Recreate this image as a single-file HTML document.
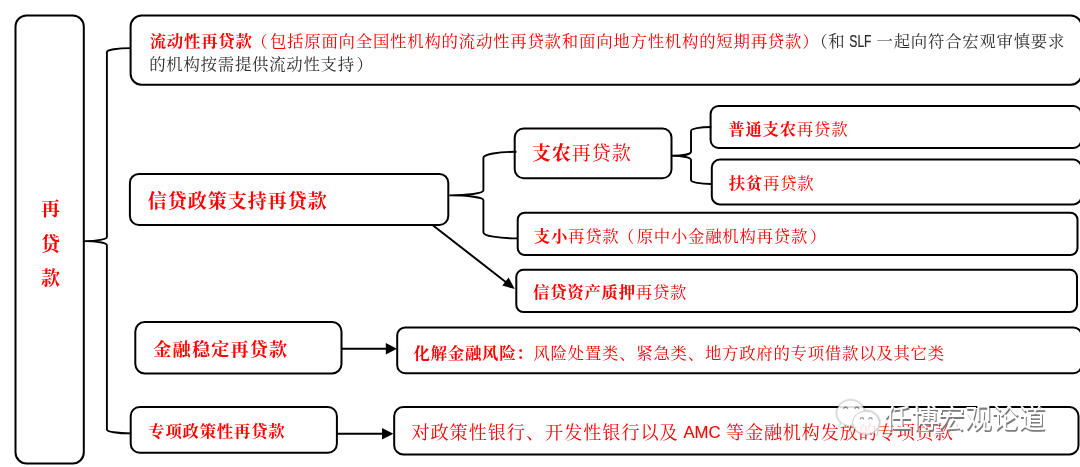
<!DOCTYPE html>
<html lang="zh-CN">
<head>
<meta charset="utf-8">
<title>再贷款</title>
<style>
  html, body { margin: 0; padding: 0; background: #fff; }
  body { width: 1080px; height: 467px; overflow: hidden; }
  svg { display: block; will-change: transform; }
  .box { fill: #fff; stroke: #000; stroke-width: 2; }
  .ln { fill: none; stroke: #000; stroke-width: 1.9; }
  .ar { fill: none; stroke: #000; stroke-width: 2; }
  .hd { fill: #000; stroke: none; }
  text { font-family: "Liberation Serif", "Noto Serif CJK SC", serif; fill: #ff0000; font-weight: 400; }
  .b { font-weight: 700; }
  .k { fill: #2b2b2b; }
  .la { font-family: "Liberation Sans", "Noto Sans CJK SC", sans-serif; font-weight: 400; }
  .t17 { font-size: 16.4px; letter-spacing: 0.75px; }
  .t18 { font-size: 17.4px; letter-spacing: 0.6px; }
  .t19 { font-size: 18.1px; letter-spacing: 0.9px; }
  .t20 { font-size: 19px; letter-spacing: 1px; }
  .wm { font-family: "Liberation Sans", "Noto Sans CJK SC", sans-serif; font-size: 26.9px; fill: #fff; font-weight: 400; }
  .wmi { filter: drop-shadow(0.6px 0.6px 0.8px rgba(0,0,0,0.45)); opacity: 0.86; }
</style>
</head>
<body>
<svg width="1080" height="467" viewBox="0 0 1080 467">
  <defs>
    <filter id="ws" x="-5%" y="-25%" width="110%" height="150%" color-interpolation-filters="sRGB">
      <feOffset in="SourceAlpha" dx="1" dy="2" result="o"/>
      <feGaussianBlur in="o" stdDeviation="0.45" result="b"/>
      <feFlood flood-color="#7c7c7c" result="c"/>
      <feComposite in="c" in2="b" operator="in" result="s"/>
      <feMerge><feMergeNode in="s"/><feMergeNode in="SourceGraphic"/></feMerge>
    </filter>
  </defs>
  <rect x="0" y="0" width="1080" height="467" fill="#fff"/>

  <!-- boxes -->
  <rect class="box" x="15.5" y="15.5" width="68.3" height="447.9" rx="11" ry="11"/>
  <rect class="box" x="130.6" y="15.5" width="951" height="69.2" rx="11" ry="11"/>
  <rect class="box" x="129.9" y="173.9" width="318.4" height="51.1" rx="9" ry="9"/>
  <rect class="box" x="514.7" y="128.5" width="156.8" height="49.8" rx="9" ry="9"/>
  <rect class="box" x="710.6" y="106" width="370.7" height="42" rx="8" ry="8"/>
  <rect class="box" x="711.8" y="159.6" width="369.5" height="44.8" rx="8" ry="8"/>
  <rect class="box" x="517.7" y="212.7" width="559.8" height="42.3" rx="7" ry="7"/>
  <rect class="box" x="516.3" y="269.8" width="560.7" height="42.2" rx="7" ry="7"/>
  <rect class="box" x="135.3" y="322" width="206.2" height="51.6" rx="9.5" ry="9.5"/>
  <rect class="box" x="397.2" y="327.4" width="684.3" height="45.8" rx="8" ry="8"/>
  <rect class="box" x="130.7" y="407" width="206.2" height="45.8" rx="9" ry="9"/>
  <rect class="box" x="394.2" y="407.1" width="684.3" height="47.3" rx="9" ry="9"/>

  <!-- connectors -->
  <path class="ln" d="M130.5,48.1 A23.6,4 0 0 0 106.9,52.1 V237 A22.4,4.1 0 0 1 84.5,241.1 A22.4,4.1 0 0 1 106.9,245.2 V429.4 A23.6,4 0 0 0 130.5,433.4"/>
  <path class="ln" d="M516.5,151.8 A33.1,6 0 0 0 483.4,157.8 V190.6 A34.1,4.8 0 0 1 449.3,195.4 A34.1,4.8 0 0 1 483.4,200.2 V232.4 A34.1,6 0 0 0 517.5,238.4"/>
  <path class="ln" d="M711.3,127 A20,4 0 0 0 691,131 V152 A19,4 0 0 1 672,155.8 A19,4 0 0 1 691,160 V180 A20,4 0 0 0 712,184"/>

  <!-- arrows -->
  <path class="ar" d="M432.8,225.2 L507,283"/>
  <path class="hd" d="M514.8,289 L502.3,285.6 L508.6,277.6 Z"/>
  <path class="ar" d="M342,348.7 H388"/>
  <path class="hd" d="M397,348.7 L385.8,343 V354.4 Z"/>
  <path class="ar" d="M337,433.7 H384"/>
  <path class="hd" d="M393.4,433.7 L382,428 V439.4 Z"/>

  <!-- text -->
  <text class="t19 b" x="50.9" y="216" text-anchor="middle" style="font-size:19px">再</text>
  <text class="t19 b" x="50.9" y="251" text-anchor="middle" style="font-size:19px">贷</text>
  <text class="t19 b" x="50.9" y="285.2" text-anchor="middle" style="font-size:19px">款</text>

  <text class="t17" x="149.7" y="47" style="letter-spacing:0.78px"><tspan class="b">流动性再贷款</tspan><tspan dx="-1.5">（</tspan><tspan dx="1.5">包括</tspan>原面向全国性机构的流动性再贷款和面向地方性机构的短期再贷款）<tspan class="k">（和</tspan></text>
  <text class="la k" transform="translate(849.3,47.1) scale(0.74,1)" font-size="16.4" stroke="#2b2b2b" stroke-width="0.2">SLF</text>
  <text class="t17 k" x="876.6" y="47">一起向符合宏观审慎要求</text>
  <text class="t17 k" x="149.2" y="70">的机构按需提供流动性支持<tspan dx="1.6">）</tspan></text>

  <text class="t20 b" x="147.7" y="207.5">信贷政策支持再贷款</text>
  <text class="t20" x="531.7" y="160"><tspan class="b">支农</tspan>再贷款</text>
  <text class="t17" x="728.3" y="135"><tspan class="b">普通支农</tspan>再贷款</text>
  <text class="t17" x="728.8" y="189"><tspan class="b">扶贫</tspan>再贷款</text>
  <text class="t17" x="533.8" y="242"><tspan class="b">支小</tspan>再贷款<tspan dx="-1.5">（</tspan><tspan dx="1.5">原中小金融机构再贷款</tspan><tspan dx="1.8">）</tspan></text>
  <text class="t17" x="533" y="298"><tspan class="b">信贷资产质押</tspan>再贷款</text>
  <text class="t19 b" x="153.3" y="356" style="letter-spacing:1.2px">金融稳定再贷款</text>
  <text class="t17" x="413.5" y="359"><tspan class="b">化解金融风险：</tspan>风险处置类、紧急类、地方政府的专项借款以及其它类</text>
  <text class="t17 b" x="148.3" y="437">专项政策性再贷款</text>
  <text class="t19" x="411.4" y="438.9" style="letter-spacing:1px">对政策性银行、开发性银行以及</text>
  <text class="la" transform="translate(683.4,438) scale(1.04,1)" font-size="16.1" stroke="#ff0000" stroke-width="0.12">AMC</text>
  <text class="t19" x="725.9" y="438.9">等金融机构发放的专项贷款</text>

  <!-- watermark -->
  <g class="wmi">
    <path d="M842.5,422 L838,428.5 L848.5,424 Z" fill="#fff"/>
    <ellipse cx="850.6" cy="413" rx="13.8" ry="12.8" fill="#fff" stroke="#d4d4d4" stroke-width="0.8"/>
    <path d="M871,430 L877.5,435.5 L876.5,427 Z" fill="#fff" stroke="#d0d0d0" stroke-width="0.6"/>
    <ellipse cx="866" cy="422.6" rx="13.4" ry="11.6" fill="#fff" stroke="#c6c6c6" stroke-width="1"/>
    <path d="M843.6,409 a1.9,1.9 0 0 1 3.8,0 M855,409 a1.9,1.9 0 0 1 3.8,0 M860.2,419.4 a1.7,1.7 0 0 1 3.4,0 M868.8,419.4 a1.7,1.7 0 0 1 3.4,0" fill="none" stroke="#8a8a8a" stroke-width="1.3"/>
  </g>
  <text class="wm" x="884.3" y="428.3" filter="url(#ws)">任博宏观论道</text>
</svg>
</body>
</html>
